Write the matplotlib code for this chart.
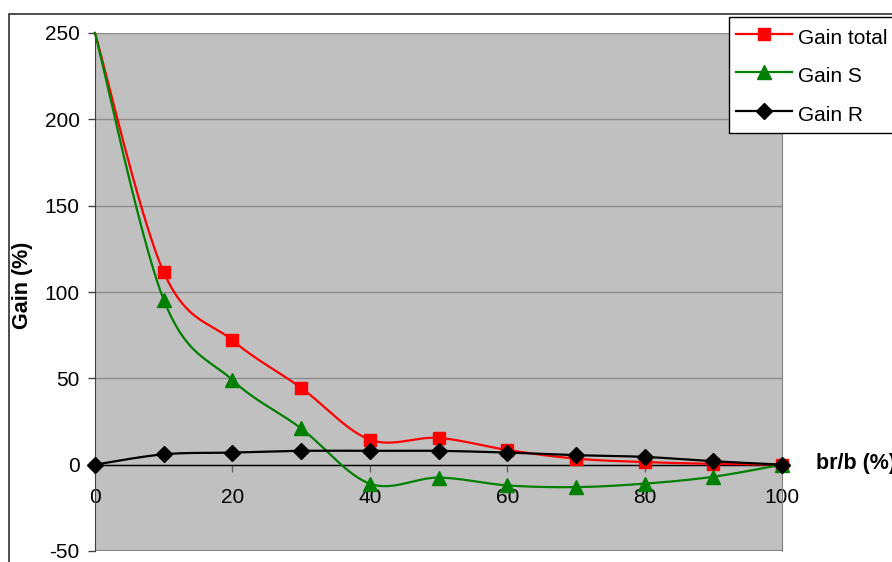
import numpy as np
import matplotlib
matplotlib.use("Agg")
import matplotlib.pyplot as plt
from matplotlib.patches import Rectangle

plt.rcParams["font.family"] = ["Liberation Sans", "DejaVu Sans"]
plt.rcParams["axes.unicode_minus"] = False

# data
br_b = [0, 10, 20, 30, 40, 50, 60, 70, 80, 90, 100]
gain_total = [250, 111.5, 72, 44.5, 14.5, 15.5, 8.5, 3.5, 1.5, 0.5, 0]
gain_s = [250, 95.5, 49, 21, -11, -7.5, -12, -13, -11, -7, 0]
gain_r = [0, 6, 7, 8, 8, 8, 7, 5.5, 4.5, 2, 0]


def smooth(x, y, n=30):
    # Excel-like smoothed line (Catmull-Rom through the points)
    x = np.asarray(x, float)
    y = np.asarray(y, float)
    px = np.concatenate([[x[0]], x, [x[-1]]])
    py = np.concatenate([[y[0]], y, [y[-1]]])
    xs, ys = [], []
    t = np.linspace(0, 1, n)
    for i in range(1, len(px) - 2):
        p0 = np.array([px[i], py[i]])
        p3 = np.array([px[i + 1], py[i + 1]])
        c1 = p0 + (np.array([px[i + 1], py[i + 1]]) - np.array([px[i - 1], py[i - 1]])) / 6
        c2 = p3 - (np.array([px[i + 2], py[i + 2]]) - np.array([px[i], py[i]])) / 6
        b = ((1 - t) ** 3)[:, None] * p0 + (3 * (1 - t) ** 2 * t)[:, None] * c1 \
            + (3 * (1 - t) * t ** 2)[:, None] * c2 + (t ** 3)[:, None] * p3
        xs.extend(b[:, 0])
        ys.extend(b[:, 1])
    return xs, ys


W, H = 892, 562
FS = 15
fig = plt.figure(figsize=(W / 100, H / 100), dpi=100)

# outer chart border
fig.patches.append(Rectangle((8.5 / W, -0.1), 1.2, 1 - 13.5 / H + 0.1,
                             transform=fig.transFigure, fill=False,
                             edgecolor="#303030", linewidth=1.2))

ax = fig.add_axes([95 / W, 1 - 551 / H, (782 - 95) / W, (551 - 33) / H])
ax.set_facecolor("#C0C0C0")
ax.set_xlim(0, 100)
ax.set_ylim(-50, 250)

ax.set_yticks([-50, 0, 50, 100, 150, 200, 250])
ax.set_xticks([0, 20, 40, 60, 80, 100])
ax.yaxis.grid(True, color="#8c8c8c", linewidth=1)
ax.set_axisbelow(True)

ax.spines["top"].set_visible(False)
ax.spines["right"].set_color("#808080")
ax.spines["left"].set_color("#404040")
ax.spines["bottom"].set_position(("data", 0))
ax.spines["bottom"].set_color("black")
ax.spines["bottom"].set_linewidth(1)
ax.axhline(-50, color="#808080", linewidth=1.5, zorder=0.5)
ax.axhline(250, color="#808080", linewidth=1.5, zorder=0.5)

ax.tick_params(axis="y", direction="out", length=5, width=1, color="#404040",
               labelsize=FS, pad=6)
ax.tick_params(axis="x", direction="out", length=5, width=1, color="#606060",
               labelsize=FS, pad=12)

series = [
    (gain_total, "Gain total", "#FF0000", "s", 9),
    (gain_s, "Gain S", "#008000", "^", 10),
    (gain_r, "Gain R", "black", "D", 8),
]
handles = []
for k, (vals, label, col, mk, ms) in enumerate(series):
    sx, sy = smooth(br_b, vals)
    ax.plot(sx, sy, color=col, linewidth=1.6, zorder=3 + k, clip_on=False)
    # points sitting on the top edge of the plot area are drawn without marker
    keep = [j for j, v in enumerate(vals) if v < 250]
    ax.plot([br_b[j] for j in keep], [vals[j] for j in keep], linestyle="none",
            marker=mk, markersize=ms, color=col, zorder=3 + k, clip_on=False)
    h, = ax.plot([], [], color=col, linewidth=1.6, marker=mk, markersize=ms)
    handles.append(h)

ax.set_ylabel("Gain (%)", fontsize=FS + 0.5, fontweight="bold")
ax.yaxis.set_label_coords(-62 / (782 - 95), (551 - 285) / (551 - 33))
fig.text(816 / W, 1 - 464 / H, "br/b (%)", fontsize=FS + 0.5, fontweight="bold",
         va="center", ha="left")

leg = fig.legend(handles, [s[1] for s in series], loc="upper left",
                 bbox_to_anchor=(729 / W, 1 - 17 / H), fontsize=FS,
                 frameon=True, fancybox=False, edgecolor="black", framealpha=1,
                 borderaxespad=0, handlelength=2.65, handleheight=1.45,
                 labelspacing=0.66, handletextpad=0.3, borderpad=0.35)
leg.get_frame().set_linewidth(1)

fig.savefig("out.png", dpi=100)
